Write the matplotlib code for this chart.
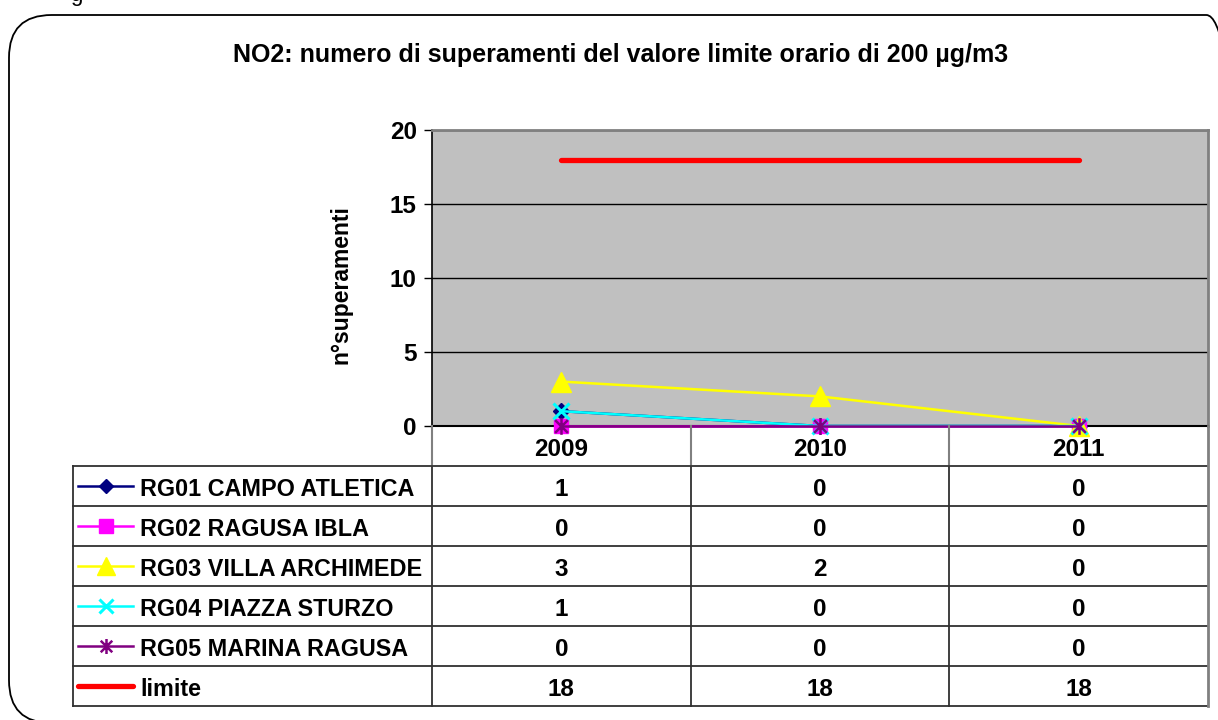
import numpy as np
import matplotlib.pyplot as plt
from matplotlib.patches import FancyBboxPatch
from matplotlib.path import Path

plt.rcParams['font.family'] = ['Liberation Sans', 'DejaVu Sans']

years = ['2009', '2010', '2011']
stations = ['RG01 CAMPO ATLETICA', 'RG02 RAGUSA IBLA', 'RG03 VILLA ARCHIMEDE',
            'RG04 PIAZZA STURZO', 'RG05 MARINA RAGUSA', 'limite']
rg01 = [1, 0, 0]
rg02 = [0, 0, 0]
rg03 = [3, 2, 0]
rg04 = [1, 0, 0]
rg05 = [0, 0, 0]
limite = [18, 18, 18]
series = [rg01, rg02, rg03, rg04, rg05, limite]

# asterisk like excel: x plus vertical bar
ast = Path([(-1, -1), (1, 1), (-1, 1), (1, -1), (0, -1.3), (0, 1.3)],
           [Path.MOVETO, Path.LINETO, Path.MOVETO, Path.LINETO, Path.MOVETO, Path.LINETO])

styles = [
    dict(color='#000080', marker='D', ms=8, mfc='#000080', mec='#000080', lw=1.8),
    dict(color='#FF00FF', marker='s', ms=10.5, mfc='#FF00FF', mec='#FF00FF', lw=1.8),
    dict(color='#FFFF00', marker='^', ms=14, mfc='#FFFF00', mec='#FFFF00', lw=1.8),
    dict(color='#00FFFF', marker='x', ms=11, mfc='none', mec='#00FFFF', mew=2.2, lw=1.8),
    dict(color='#800080', marker=ast, ms=12, mfc='none', mec='#800080', mew=1.8, lw=1.8),
    dict(color='#FF0000', marker=None, lw=3.8, solid_capstyle='round'),
]

W, H = 1218, 720
fig = plt.figure(figsize=(W / 100, H / 100), dpi=100)

def px(x0, y0, x1, y1):
    return [x0 / W, 1 - y1 / H, (x1 - x0) / W, (y1 - y0) / H]

# rounded frame
frame = FancyBboxPatch((9 / W, -3 / H), 1240 / W, (H - 15 + 3) / H,
                       boxstyle='round,pad=0,rounding_size=0.035',
                       transform=fig.transFigure, fill=False, ec='black', lw=1.3,
                       mutation_aspect=W / H)
fig.patches.append(frame)
fig.text(76 / W, 1 - 1 / H, 'g', fontsize=16, ha='center', va='baseline')

fig.text(621 / W, 1 - 55 / H, 'NO2: numero di superamenti del valore limite orario di 200 µg/m3',
         ha='center', va='center', fontsize=18, fontweight='bold')

ax = fig.add_axes(px(432, 130, 1208, 426))
ax.set_facecolor('#C0C0C0')
x = np.arange(len(years))
for s, st in zip(series, styles):
    ax.plot(x, s, clip_on=False, zorder=3, **st)
ax.set_xlim(-0.5, 2.5)
ax.set_ylim(0, 20)
ax.set_yticks([0, 5, 10, 15, 20])
ax.set_xticks([])
ax.tick_params(axis='y', labelsize=17.5, direction='out', length=6, width=1, pad=5)
for lbl in ax.get_yticklabels():
    lbl.set_fontweight('bold')
ax.grid(axis='y', color='black', lw=1)
ax.set_axisbelow(True)
for side in ['top', 'right']:
    ax.spines[side].set_color('#808080')
    ax.spines[side].set_linewidth(2)
ax.spines['left'].set_linewidth(1.2)
ax.spines['bottom'].set_linewidth(1.5)
fig.text(341 / W, 1 - 285 / H, 'n°superamenti', rotation=90, ha='center', va='center',
         fontsize=16.5, fontweight='bold')

# data table
tax = fig.add_axes(px(73, 426, 1208, 706))
left = -0.5 - (432 - 73) / (776 / 3)
tax.set_xlim(left, 2.5)
tax.set_ylim(7, 0)
tax.axis('off')
n = len(stations)
for i in range(1, n + 2):
    tax.plot([left, 2.5], [i, i], color='#303030', lw=1.3, clip_on=False)
tax.plot([left, left], [1, n + 1], color='#303030', lw=1.3, clip_on=False)
for xv in [-0.5, 0.5, 1.5]:
    tax.plot([xv, xv], [0, 1], color='#808080', lw=1.5, clip_on=False)
    tax.plot([xv, xv], [1, n + 1], color='#303030', lw=1.3, clip_on=False)
tax.plot([2.5, 2.5], [0, n + 1], color='#808080', lw=2, clip_on=False)
dy = 0.1
for j, yr in enumerate(years):
    tax.text(j, 0.5 + dy, yr, ha='center', va='center', fontsize=17.5, fontweight='bold')
unit = 3 / 776
for i, (name, s, st) in enumerate(zip(stations, series, styles)):
    yc = i + 1.5
    xs = [left + 5 * unit, left + 60 * unit]
    st2 = dict(st)
    st2.pop('marker')
    st2.pop('ms', None)
    tax.plot(xs, [yc, yc], clip_on=False, **st2)
    if st['marker'] is not None:
        tax.plot([(xs[0] + xs[1]) / 2], [yc], ls='none', clip_on=False,
                 marker=st['marker'], ms=st['ms'] * 0.9, mfc=st['mfc'], mec=st['mec'],
                 mew=st.get('mew', 1))
    tax.text(left + 67 * unit, yc + dy, name, ha='left', va='center', fontsize=16.8,
             fontweight='bold')
    for j, v in enumerate(s):
        tax.text(j, yc + dy, str(v), ha='center', va='center', fontsize=17.5,
                 fontweight='bold')

fig.savefig('out.png', dpi=100)
